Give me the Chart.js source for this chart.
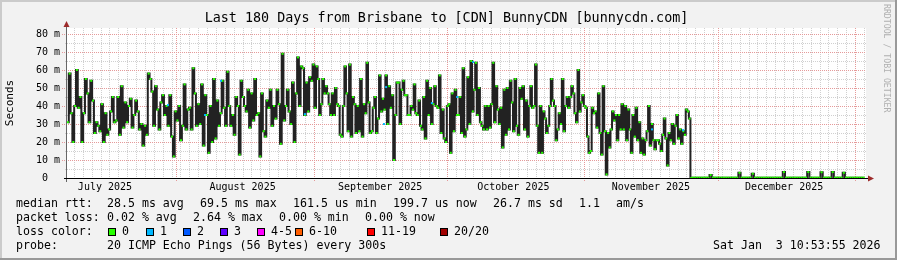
<!DOCTYPE html>
<html>
<head>
<meta charset="utf-8">
<script src="https://cdn.jsdelivr.net/npm/chart.js@4.4.1/dist/chart.umd.min.js"></script>
<style>
  html, body { margin: 0; padding: 0; background: #f2f2f2; }
  canvas { display: block; }
</style>
</head>
<body>
<canvas id="ping" width="897" height="260"></canvas>
<script>
// time axis is "days since start of the 180 day window"
const monthLabels = ['July 2025', 'August 2025', 'September 2025', 'October 2025', 'November 2025', 'December 2025'];
const monthMidDays = [8.55, 39.55, 70.55, 100.55, 131.55, 161.55];
const monthStartDays = [24.55, 55.55, 85.55, 116.55, 146.55, 177.55];
const yTicks = [0, 10, 20, 30, 40, 50, 60, 70, 80];

// median rtt (ms) in five chunks
const segDays = [0, 27.5, 56.1, 84.5, 112.9, 140.8];
const rttSeg1 = [31, 58, 36, 20, 40, 60, 39, 45, 20, 36, 55, 47, 31, 54, 43, 25, 31, 29, 26, 41, 20, 36, 24, 27, 37, 45, 31, 32, 45, 24, 51, 28, 42, 31, 40, 44, 28, 35, 43, 37, 27, 30, 18, 29, 24, 58, 55, 48, 29, 51, 38, 27, 42, 46, 35, 40, 29, 46, 23, 12, 37, 32, 40, 21, 29, 52, 27, 38];
const rttSeg2 = [39, 27, 61, 47, 29, 41, 30, 52, 18, 46, 35, 14, 40, 20, 55, 22, 43, 29, 36, 54, 39, 29, 59, 40, 29, 35, 24, 45, 40, 13, 54, 45, 40, 37, 49, 28, 47, 32, 55, 35, 36, 12, 47, 26, 23, 43, 39, 49, 29, 40, 33, 49, 41, 19, 69, 32, 40, 49, 37, 30, 53, 20, 47, 67, 40, 62, 61, 35, 53, 37, 56, 54, 63, 39];
const rttSeg3 = [62, 55, 35, 41, 55, 47, 51, 47, 41, 35, 47, 35, 50, 41, 40, 24, 23, 40, 62, 47, 26, 63, 23, 45, 41, 25, 40, 26, 55, 23, 41, 36, 64, 42, 25, 26, 39, 45, 25, 33, 57, 37, 44, 38, 57, 30, 51, 39, 46, 10, 35, 53, 53, 30, 49, 54, 46, 46, 35, 35, 40, 38, 52, 36, 35, 43, 29, 27, 45, 22, 54, 35, 50, 30, 41, 51, 40, 39, 57, 25];
const rttSeg4 = [38, 22, 20, 40, 41, 14, 47, 26, 49, 35, 35, 45, 25, 61, 23, 27, 56, 30, 65, 37, 49, 64, 35, 50, 31, 29, 27, 40, 27, 40, 28, 41, 64, 31, 51, 38, 30, 39, 17, 49, 24, 50, 27, 54, 42, 26, 55, 29, 24, 50, 44, 51, 27, 43, 23, 40, 51, 39, 40, 63, 29, 14, 40, 14, 37, 33, 25, 29, 40, 55, 43, 40, 21, 27, 36, 30, 55, 26, 40, 45];
const rttSeg5 = [39, 45, 51, 47, 36, 31, 60, 37, 42, 46, 40, 39, 23, 14, 15, 39, 36, 37, 28, 47, 25, 13, 51, 26, 2, 25, 17, 27, 37, 32, 35, 21, 35, 27, 41, 27, 40, 21, 38, 27, 14, 35, 23, 39, 21, 31, 14, 22, 13, 21, 26, 40, 18, 30, 21, 16, 21, 21, 19, 15, 24, 33, 22, 7, 25, 21, 30, 19, 29, 35, 22, 27, 19, 26, 24, 38, 37, 33, 0];
// after the drop: near zero, half-day samples
const tailStart = 141;
const tailStep = 0.5;
const rttTail = [0.2, 0.2, 0.2, 0.2, 0.2, 0.2, 0.2, 0.2, 1.7, 0.2, 0.2, 0.2, 0.2, 0.2, 0.2, 0.2, 0.2, 0.2, 0.2, 0.2, 0.2, 2.9, 0.2, 0.2, 0.2, 0.2, 0.2, 2.4, 0.2, 0.2, 0.2, 0.2, 0.2, 0.2, 0.2, 0.2, 0.2, 0.2, 0.2, 0.2, 0.2, 3.3, 0.2, 0.2, 0.2, 0.2, 0.2, 0.2, 0.2, 0.2, 0.2, 0.2, 3.3, 0.2, 0.2, 0.2, 0.2, 0.2, 3.2, 0.2, 0.2, 0.2, 0.2, 3.3, 0.2, 0.2, 0.2, 0.2, 2.9, 0.2, 0.2, 0.2, 0.2, 0.2, 0.2, 0.2, 0.2, 0.2];

// samples that lost 1 of 20 pings (drawn cyan)
const lossOneDays = [22.75, 31.1, 34.7, 53.6, 71.4, 71.9, 82.2, 87.9, 91.5, 131.8, 138.8];
const lossOneRtt = [40.5, 35, 54, 35.5, 30, 50.5, 41.6, 45, 64.4, 27, 26.6];

const lossLabels = ['0', '1', '2', '3', '4-5', '6-10', '11-19', '20/20'];
const lossColors = ['#26ff00', '#00b8ff', '#0059ff', '#5e00ff', '#ff00ff', '#ff5e00', '#ff0000', '#a10000'];

const mono = "'DejaVu Sans Mono', monospace";

const points = [];
[rttSeg1, rttSeg2, rttSeg3, rttSeg4, rttSeg5].forEach((vals, s) => {
  const d0 = segDays[s], step = (segDays[s + 1] - d0) / vals.length;
  vals.forEach((v, i) => points.push({ x: d0 + (i + 0.5) * step, y: v }));
});
rttTail.forEach((v, k) => points.push({ x: tailStart + k * tailStep, y: v }));
const lossOnePoints = lossOneDays.map((d, i) => ({ x: d, y: lossOneRtt[i] }));

function line(ctx, x0, y0, x1, y1) {
  ctx.beginPath();
  ctx.moveTo(x0, y0);
  ctx.lineTo(x1, y1);
  ctx.stroke();
}

const frame = {
  id: 'frame',
  beforeDraw(chart) {
    const { ctx, width, height, chartArea: a } = chart;
    ctx.save();
    ctx.fillStyle = '#f2f2f2';
    ctx.fillRect(0, 0, width, height);
    ctx.fillStyle = '#cbcbcb';
    ctx.fillRect(0, 0, width, 2);
    ctx.fillRect(0, 0, 2, height);
    ctx.fillStyle = '#999';
    ctx.fillRect(0, height - 2, width, 2);
    ctx.fillRect(width - 2, 0, 2, height);
    ctx.fillStyle = '#fff';
    ctx.fillRect(a.left, a.top, a.right - a.left, a.bottom - a.top);
    ctx.restore();
  },
  beforeDatasetsDraw(chart) {
    const { ctx, chartArea: a, scales: { x, y } } = chart;
    ctx.save();
    ctx.lineWidth = 1;
    ctx.setLineDash([1, 1]);
    // minor grid
    ctx.strokeStyle = '#d0d0d0';
    for (let v = 5; v < y.max; v += 10) {
      const py = Math.round(y.getPixelForValue(v)) + 0.5;
      line(ctx, a.left - 2, py, a.right, py);
    }
    for (let d = 1.55; d < 180; d += 2) {
      if (monthStartDays.some(m => Math.abs(m - d) < 0.5)) continue;
      const px = Math.round(x.getPixelForValue(d)) + 0.5;
      line(ctx, px, a.top, px, a.bottom);
    }
    // major grid
    ctx.strokeStyle = '#e59a9a';
    yTicks.filter(v => v > 0).forEach(v => {
      const py = Math.round(y.getPixelForValue(v)) + 0.5;
      line(ctx, a.left - 5, py, a.right, py);
    });
    monthStartDays.forEach(d => {
      const px = Math.round(x.getPixelForValue(d)) + 0.5;
      line(ctx, px, a.top, px, a.bottom + 4);
    });
    ctx.restore();
  },
  afterDatasetsDraw(chart) {
    const { ctx, chartArea: a } = chart;
    ctx.save();
    ctx.lineWidth = 1;
    ctx.strokeStyle = '#666';
    line(ctx, a.left - 0.5, a.top - 2, a.left - 0.5, a.bottom + 4);
    ctx.strokeStyle = '#000';
    line(ctx, a.left - 3, a.bottom + 0.5, a.right + 4, a.bottom + 0.5);
    ctx.fillStyle = '#9d2b2b';
    ctx.beginPath();
    ctx.moveTo(a.left - 3.5, a.top - 1);
    ctx.lineTo(a.left + 2.5, a.top - 1);
    ctx.lineTo(a.left - 0.5, a.top - 7);
    ctx.closePath();
    ctx.fill();
    ctx.beginPath();
    ctx.moveTo(a.right + 2, a.bottom - 2.5);
    ctx.lineTo(a.right + 2, a.bottom + 3.5);
    ctx.lineTo(a.right + 8, a.bottom + 0.5);
    ctx.closePath();
    ctx.fill();
    ctx.restore();
  },
  afterDraw(chart) {
    const { ctx } = chart;
    ctx.save();
    ctx.fillStyle = '#000';
    ctx.textBaseline = 'middle';
    ctx.textAlign = 'center';
    ctx.font = '13.4px ' + mono;
    ctx.fillText('Last 180 Days from Brisbane to [CDN] BunnyCDN [bunnycdn.com]', 446.5, 19);

    ctx.textAlign = 'left';
    ctx.font = '11.6px ' + mono;
    const rows = [
      [204, [[16, 'median rtt:'], [107, '28.5 ms avg'], [200, '69.5 ms max'], [293, '161.5 us min'], [393, '199.7 us now'], [493, '26.7 ms sd'], [579, '1.1'], [616, 'am/s']]],
      [218, [[16, 'packet loss:'], [107, '0.02 % avg'], [193, '2.64 % max'], [279, '0.00 % min'], [365, '0.00 % now']]],
      [232, [[16, 'loss color:']]],
      [246, [[16, 'probe:'], [107, '20 ICMP Echo Pings (56 Bytes) every 300s'], [713, 'Sat Jan  3 10:53:55 2026']]]
    ];
    rows.forEach(([py, parts]) => parts.forEach(([px, t]) => ctx.fillText(t, px, py)));

    const boxX = [108, 146, 183, 220, 257, 295, 367, 440];
    lossLabels.forEach((lab, i) => {
      ctx.fillStyle = lossColors[i];
      ctx.fillRect(boxX[i], 228, 8, 8);
      ctx.strokeStyle = '#000';
      ctx.lineWidth = 1;
      ctx.strokeRect(boxX[i] + 0.5, 228.5, 7, 7);
      ctx.fillStyle = '#000';
      ctx.fillText(lab, boxX[i] + 14, 232);
    });

    ctx.translate(886, 4);
    ctx.rotate(Math.PI / 2);
    ctx.fillStyle = '#b0b0b0';
    ctx.font = '8.2px ' + mono;
    ctx.fillText('RRDTOOL / TOBI OETIKER', 0, 0);
    ctx.restore();
  }
};

new Chart(document.getElementById('ping').getContext('2d'), {
  type: 'line',
  data: {
    datasets: [
      {
        data: points,
        stepped: 'middle',
        borderColor: '#222',
        borderWidth: 2,
        pointRadius: 0,
        fill: false,
        order: 3
      },
      {
        data: points,
        showLine: false,
        pointStyle: 'line',
        pointRadius: 1,
        pointBorderWidth: 2,
        pointBorderColor: lossColors[0],
        order: 2
      },
      {
        data: lossOnePoints,
        showLine: false,
        pointStyle: 'line',
        pointRadius: 1,
        pointBorderWidth: 2,
        pointBorderColor: lossColors[1],
        order: 1
      }
    ]
  },
  options: {
    responsive: false,
    animation: false,
    devicePixelRatio: 1,
    layout: { padding: { left: 0, top: 28, right: 31, bottom: 62 } },
    plugins: { legend: { display: false }, tooltip: { enabled: false } },
    scales: {
      x: {
        type: 'linear',
        min: 0,
        max: 180,
        grid: { display: false, drawTicks: false },
        border: { display: false },
        afterBuildTicks: s => { s.ticks = monthMidDays.map(v => ({ value: v })); },
        afterFit: s => { s.height = 20; },
        ticks: {
          autoSkip: false,
          maxRotation: 0,
          padding: 3,
          color: '#000',
          font: { family: mono, size: 10 },
          callback: (v, i) => monthLabels[i]
        }
      },
      y: {
        min: 0,
        max: 83.33,
        grid: { display: false, drawTicks: false },
        border: { display: false },
        afterBuildTicks: s => { s.ticks = yTicks.map(v => ({ value: v })); },
        afterFit: s => { s.width = 67; },
        ticks: {
          padding: 7,
          color: '#000',
          font: { family: mono, size: 10 },
          callback: v => (v === 0 ? '0  ' : v + ' m')
        },
        title: {
          display: true,
          text: 'Seconds',
          color: '#000',
          font: { family: mono, size: 11 },
          padding: { top: 4, bottom: 0 }
        }
      }
    }
  },
  plugins: [frame]
});
</script>
</body>
</html>
